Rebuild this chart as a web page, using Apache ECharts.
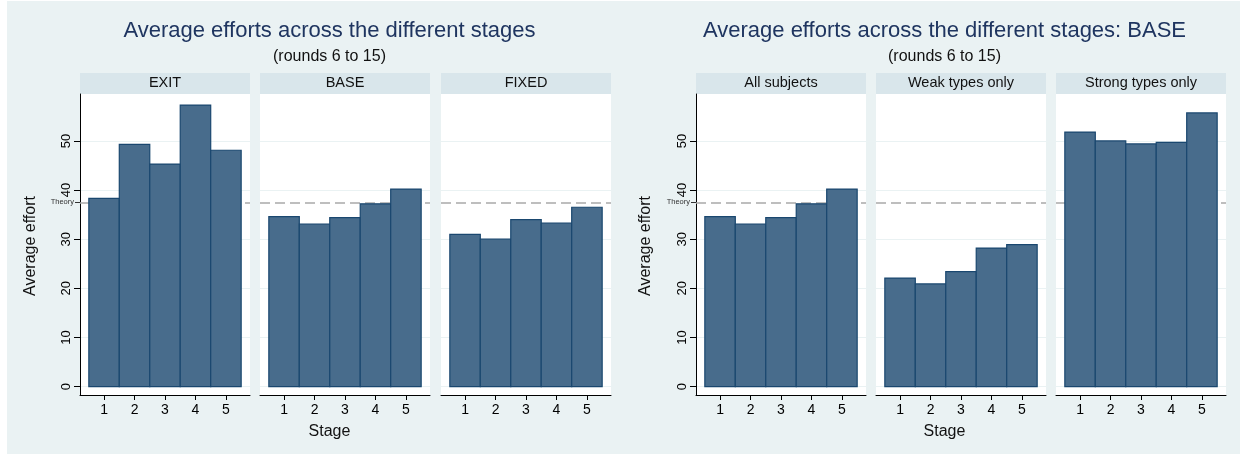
<!DOCTYPE html>
<html><head><meta charset="utf-8">
<script src="https://cdn.jsdelivr.net/npm/echarts@6/dist/echarts.min.js"></script>
<style>
html,body{margin:0;padding:0;background:#fff;}
#bg{position:absolute;left:7px;top:1px;width:1233px;height:453px;background:#EAF2F3;}
#c{position:absolute;left:0;top:0;width:1247px;height:454px;}
</style>
</head><body><div id="bg"></div><div id="c"></div>
<script>
// ---- data ----
const stages = [1, 2, 3, 4, 5];
const leftPanels = ['EXIT', 'BASE', 'FIXED'];
const rightPanels = ['All subjects', 'Weak types only', 'Strong types only'];
const exitEffort = [38.3, 49.3, 45.3, 57.3, 48.1];
const baseEffort = [34.6, 33.1, 34.4, 37.2, 40.2];
const fixedEffort = [31.0, 30.0, 34.0, 33.3, 36.5];
const allSubjectsEffort = [34.6, 33.1, 34.4, 37.2, 40.2];
const weakTypesEffort = [22.1, 20.9, 23.4, 28.2, 28.9];
const strongTypesEffort = [51.8, 50.0, 49.4, 49.7, 55.7];
const yTicks = [0, 10, 20, 30, 40, 50];
const theoryValue = 37.5;
const theoryLabel = 'Theory';
const chartTitles = ['Average efforts across the different stages', 'Average efforts across the different stages: BASE'];
const chartSubtitle = '(rounds 6 to 15)';
const xTitle = 'Stage';
const yTitle = 'Average effort';

// ---- layout / style ----
const FONT = '"Liberation Sans", Arial, Helvetica, sans-serif';
const charts = [
  { panels: leftPanels, series: [exitEffort, baseEffort, fixedEffort], lefts: [80, 260, 441], cx: 329.5, yTitleX: 31 },
  { panels: rightPanels, series: [allSubjectsEffort, weakTypesEffort, strongTypesEffort], lefts: [696, 876, 1056], cx: 944.5, yTitleX: 646 }
];
const PW = 170, PT = 94, PH = 301;
const Y_MIN = -1.7, Y_MAX = 59.55, X_MIN = 0.21, X_MAX = 5.79;
const BAR_FILL = '#486C8C', BAR_EDGE = '#1A476F';

const grids = [], xAxes = [], yAxes = [], series = [], graphics = [];

charts.forEach((ch, c) => {
  graphics.push({ type: 'text', x: ch.cx, y: 30.5, style: { text: chartTitles[c], font: '22px ' + FONT, fill: '#1F3560', textAlign: 'center', textVerticalAlign: 'middle' } });
  graphics.push({ type: 'text', x: ch.cx, y: 57, style: { text: chartSubtitle, font: '16px ' + FONT, fill: '#111', textAlign: 'center', textVerticalAlign: 'middle' } });
  graphics.push({ type: 'text', x: ch.cx, y: 432, style: { text: xTitle, font: '16px ' + FONT, fill: '#111', textAlign: 'center', textVerticalAlign: 'middle' } });
  graphics.push({ type: 'text', x: ch.yTitleX, y: 246, rotation: Math.PI / 2, style: { text: yTitle, font: '16px ' + FONT, fill: '#111', textAlign: 'center', textVerticalAlign: 'middle' } });

  ch.panels.forEach((name, p) => {
    const g = grids.length;
    const left = ch.lefts[p];
    grids.push({ left: left, top: PT, width: PW, height: PH, show: true, backgroundColor: '#fff', borderWidth: 0 });
    graphics.push({ type: 'rect', shape: { x: left, y: 73, width: PW, height: 21 }, style: { fill: '#D9E6EB' } });
    graphics.push({ type: 'text', x: left + PW / 2, y: 83, style: { text: name, font: '14.5px ' + FONT, fill: '#111', textAlign: 'center', textVerticalAlign: 'middle' } });

    xAxes.push({
      gridIndex: g, type: 'value', min: X_MIN, max: X_MAX,
      axisLine: { show: true, onZero: false, lineStyle: { color: '#000', width: 1 } },
      axisTick: { show: true, customValues: stages, length: 5, lineStyle: { color: '#000' } },
      axisLabel: { customValues: stages, fontSize: 14, color: '#000', margin: 8, fontFamily: FONT },
      splitLine: { show: false }
    });
    const yi = yAxes.length;
    yAxes.push({
      gridIndex: g, type: 'value', min: Y_MIN, max: Y_MAX, position: 'left',
      axisLine: { show: p === 0, onZero: false, lineStyle: { color: '#000', width: 1 } },
      axisTick: { show: p === 0, customValues: yTicks, length: 6, lineStyle: { color: '#000' } },
      axisLabel: { show: p === 0, customValues: yTicks, rotate: 90, fontSize: 13, color: '#000', margin: 7, fontFamily: FONT },
      splitLine: { show: true, lineStyle: { color: '#EAF2F3', width: 1 } }
    });
    if (p === 0) {
      yAxes.push({
        gridIndex: g, type: 'value', min: Y_MIN, max: Y_MAX, position: 'left', offset: 0,
        axisLine: { show: false },
        axisTick: { show: true, customValues: [theoryValue], length: 5, lineStyle: { color: '#333' } },
        axisLabel: { show: true, customValues: [theoryValue], formatter: () => theoryLabel, fontSize: 7.5, color: '#333', margin: 6, fontFamily: FONT },
        splitLine: { show: false }
      });
    }
    series.push({
      type: 'custom', xAxisIndex: g, yAxisIndex: yi, z: 3,
      data: stages.map((s, i) => [s, ch.series[p][i]]),
      renderItem: (params, api) => {
        const x = api.value(0), v = api.value(1);
        const a = api.coord([x - 0.5, v]);
        const b = api.coord([x + 0.5, 0]);
        return { type: 'rect', shape: { x: a[0], y: a[1], width: b[0] - a[0], height: b[1] - a[1] }, style: { fill: BAR_FILL, stroke: BAR_EDGE, lineWidth: 1.2 } };
      },
      markLine: {
        silent: true, symbol: 'none', z: 1, animation: false,
        label: { show: false },
        lineStyle: { color: '#A9A9A9', type: [10, 5], width: 1.5 },
        data: [{ yAxis: theoryValue }]
      }
    });
  });
});

const chart = echarts.init(document.getElementById('c'), null, { renderer: 'canvas' });
chart.setOption({
  backgroundColor: 'transparent',
  animation: false,
  grid: grids, xAxis: xAxes, yAxis: yAxes, series: series,
  graphic: graphics
});
</script></body></html>
